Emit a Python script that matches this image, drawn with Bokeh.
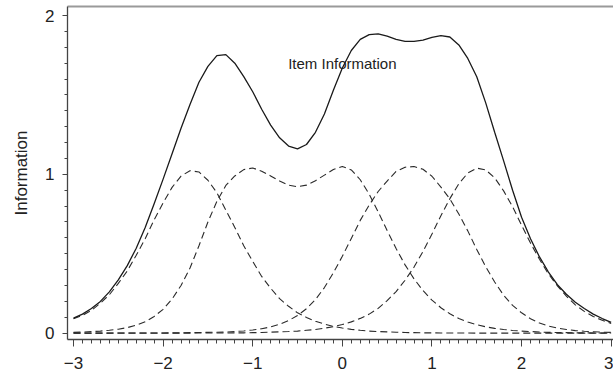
from bokeh.plotting import figure
from bokeh.models import Range1d, LinearAxis, FixedTicker, Label
from bokeh.embed import file_html
from bokeh.resources import INLINE

# ability grid (theta)
theta = [-3.0, -2.9, -2.8, -2.7, -2.6, -2.5, -2.4, -2.3, -2.2, -2.1,
         -2.0, -1.9, -1.8, -1.7, -1.6, -1.5, -1.4, -1.3, -1.2, -1.1,
         -1.0, -0.9, -0.8, -0.7, -0.6, -0.5, -0.4, -0.3, -0.2, -0.1,
         0.0, 0.1, 0.2, 0.3, 0.4, 0.5, 0.6, 0.7, 0.8, 0.9,
         1.0, 1.1, 1.2, 1.3, 1.4, 1.5, 1.6, 1.7, 1.8, 1.9,
         2.0, 2.1, 2.2, 2.3, 2.4, 2.5, 2.6, 2.7, 2.8, 2.9, 3.0]

# item information curves (dashed)
item_a = [0.090, 0.112, 0.143, 0.189, 0.242, 0.313, 0.392, 0.490, 0.595, 0.714,
          0.820, 0.918, 0.989, 1.023, 1.015, 0.963, 0.884, 0.774, 0.666, 0.550,
          0.452, 0.357, 0.283, 0.217, 0.169, 0.128, 0.099, 0.075, 0.057, 0.042,
          0.032, 0.024, 0.018, 0.013, 0.010, 0.008, 0.006, 0.004, 0.003, 0.002,
          0.002, 0.001, 0.001, 0.001, 0.001, 0.0, 0.0, 0.0, 0.0, 0.0,
          0.0, 0.0, 0.0, 0.0, 0.0, 0.0, 0.0, 0.0, 0.0, 0.0, 0.0]

item_b = [0.005, 0.007, 0.010, 0.013, 0.018, 0.025, 0.035, 0.050, 0.072, 0.105,
          0.150, 0.215, 0.300, 0.410, 0.550, 0.700, 0.830, 0.930, 0.990, 1.030,
          1.040, 1.020, 0.990, 0.958, 0.932, 0.922, 0.932, 0.960, 0.995, 1.030,
          1.050, 1.028, 0.966, 0.875, 0.763, 0.647, 0.533, 0.430, 0.342, 0.268,
          0.208, 0.160, 0.122, 0.092, 0.070, 0.053, 0.040, 0.030, 0.023, 0.017,
          0.013, 0.010, 0.007, 0.005, 0.004, 0.003, 0.002, 0.002, 0.001, 0.001, 0.001]

item_c = [0.0, 0.0, 0.0, 0.0, 0.0, 0.001, 0.001, 0.001, 0.001, 0.001,
          0.001, 0.002, 0.002, 0.003, 0.004, 0.005, 0.006, 0.007, 0.010, 0.014,
          0.020, 0.028, 0.039, 0.056, 0.079, 0.111, 0.154, 0.211, 0.287, 0.380,
          0.484, 0.596, 0.710, 0.807, 0.892, 0.958, 1.018, 1.045, 1.049, 1.032,
          0.988, 0.920, 0.845, 0.750, 0.644, 0.527, 0.418, 0.322, 0.239, 0.175,
          0.128, 0.091, 0.064, 0.045, 0.032, 0.023, 0.016, 0.012, 0.009, 0.006, 0.005]

item_d = [0.0, 0.0, 0.0, 0.0, 0.0, 0.0, 0.0, 0.0, 0.0, 0.0,
          0.0, 0.0, 0.0, 0.0, 0.001, 0.001, 0.001, 0.001, 0.002, 0.002,
          0.003, 0.004, 0.006, 0.008, 0.010, 0.013, 0.018, 0.023, 0.031, 0.041,
          0.054, 0.071, 0.093, 0.120, 0.156, 0.205, 0.262, 0.333, 0.416, 0.514,
          0.624, 0.740, 0.847, 0.941, 1.008, 1.039, 1.028, 0.978, 0.896, 0.796,
          0.680, 0.567, 0.465, 0.373, 0.298, 0.233, 0.178, 0.137, 0.105, 0.081, 0.061]

# test information (solid)
total = [0.095, 0.120, 0.155, 0.200, 0.260, 0.335, 0.425, 0.535, 0.665, 0.815,
         0.970, 1.130, 1.290, 1.440, 1.580, 1.680, 1.748, 1.754, 1.700, 1.615,
         1.520, 1.410, 1.310, 1.230, 1.178, 1.160, 1.188, 1.265, 1.380, 1.530,
         1.670, 1.780, 1.850, 1.880, 1.885, 1.870, 1.850, 1.838, 1.837, 1.845,
         1.862, 1.873, 1.865, 1.815, 1.730, 1.615, 1.450, 1.265, 1.085, 0.900,
         0.730, 0.595, 0.480, 0.385, 0.305, 0.245, 0.195, 0.155, 0.120, 0.092, 0.068]

x_ticks = [-3, -2, -1, 0, 1, 2, 3]
x_tick_labels = ["\u22123", "\u22122", "\u22121", "0", "1", "2", "3"]
y_ticks = [0, 1, 2]
y_tick_labels = ["0", "1", "2"]
y_label = "Information"
note = "Item Information"

FONT = "Liberation Sans"
INK = "#222222"

p = figure(width=613, height=376, output_backend="svg", toolbar_location=None,
           x_range=Range1d(-3.067, 3.026), y_range=Range1d(-0.04, 2.057),
           x_axis_type=None, y_axis_type=None,
           min_border_left=67, min_border_right=0, min_border_top=6,
           min_border_bottom=37)
p.outline_line_color = None
p.background_fill_color = "white"
p.border_fill_color = "white"

for series in [item_a, item_b, item_c, item_d]:
    p.line(theta, series, line_color="#2a2a2a", line_width=1.1, line_dash="7 4")
p.line(theta, total, line_color="#1a1a1a", line_width=1.3)

x_minor = [round(-3 + 0.1 * i, 1) for i in range(61)]
y_minor = [round(0.1 * i, 1) for i in range(21)]

xaxis = LinearAxis(ticker=FixedTicker(ticks=x_ticks, minor_ticks=x_minor),
                   major_label_overrides={t: l for t, l in zip(x_ticks, x_tick_labels)},
                   axis_line_color="#444444", axis_line_width=1.3,
                   major_tick_line_color="#444444", minor_tick_line_color="#444444",
                   major_tick_out=7, major_tick_in=0, minor_tick_out=4, minor_tick_in=0,
                   major_label_standoff=10,
                   major_label_text_font=FONT, major_label_text_font_size="17px",
                   major_label_text_color=INK)
p.add_layout(xaxis, "below")

yaxis = LinearAxis(ticker=FixedTicker(ticks=y_ticks, minor_ticks=y_minor),
                   major_label_overrides={t: l for t, l in zip(y_ticks, y_tick_labels)},
                   axis_label=y_label, axis_label_text_font=FONT,
                   axis_label_text_font_size="17px", axis_label_text_font_style="normal",
                   axis_label_text_color=INK, axis_label_standoff=11,
                   axis_line_color="#444444", axis_line_width=1.3,
                   major_tick_line_color="#444444", minor_tick_line_color="#444444",
                   major_tick_out=5, major_tick_in=0, minor_tick_out=3, minor_tick_in=0,
                   major_label_standoff=8,
                   major_label_text_font=FONT, major_label_text_font_size="17px",
                   major_label_text_color=INK)
p.add_layout(yaxis, "left")

top = LinearAxis(ticker=FixedTicker(ticks=[]), axis_line_color="#9a9a9a",
                 axis_line_width=2, major_tick_out=0, minor_tick_out=0,
                 major_label_standoff=0, major_label_text_font_size="0px")
p.add_layout(top, "above")

p.add_layout(Label(x=0, y=1.70, text=note, text_align="center", text_baseline="middle",
                   text_font=FONT, text_font_size="15px", text_color=INK))

open("out.html", "w").write(file_html(p, INLINE))
